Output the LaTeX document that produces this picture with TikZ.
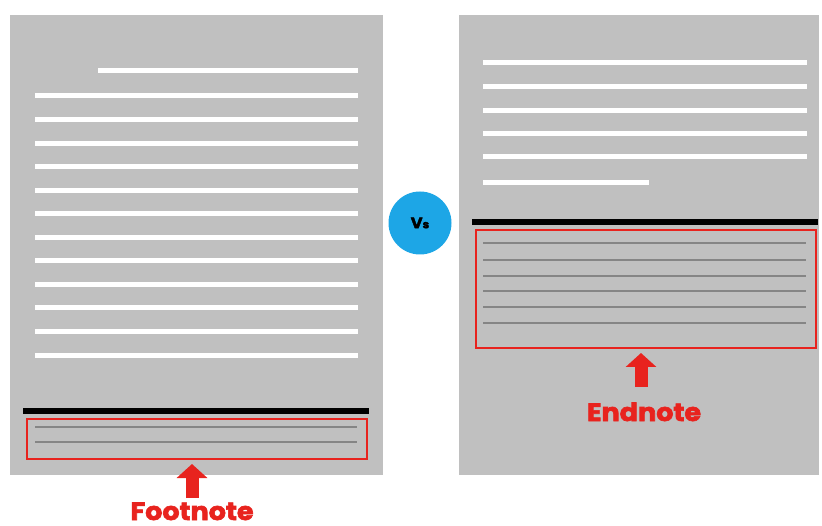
\documentclass[tikz,border=0pt]{standalone}
\usepackage{fontspec}
\newfontfamily\notefont{Poppins}[BoldFeatures={FakeBold=2.5,FakeStretch=1.08}]
\usetikzlibrary{arrows.meta}
\definecolor{pagegray}{HTML}{C0C0C0}
\definecolor{notegray}{HTML}{858585}
\definecolor{notered}{HTML}{E8231E}
\definecolor{vsblue}{HTML}{1DA6E6}
\begin{document}
\begin{tikzpicture}[x=1pt,y=-1pt,
  page/.style={fill=pagegray, draw=none, inner sep=0pt, anchor=north west},
  textline/.style={white, line width=5pt},
  rule/.style={black, line width=5.5pt},
  notebox/.style={draw=notered, line width=1.8pt, inner sep=0pt, anchor=north west},
  noteline/.style={notegray, line width=2.4pt},
  uparrow/.style={notered, line width=13pt, -{Triangle[width=30pt,length=14pt]}},
  notelabel/.style={text=notered, font=\notefont\bfseries\fontsize{25}{25}\selectfont, inner sep=0pt}
]
\useasboundingbox (0,0) rectangle (822,526);
\fill[white] (0,0) rectangle (822,526);

% left page (footnote)
\node[page, minimum width=373pt, minimum height=460pt] (lp) at (10,15) {};
\draw[textline] (98,71) -- (358,71);
\foreach \i in {0,...,11} \draw[textline] (35,96+23.55*\i) -- (358,96+23.55*\i);
\draw[rule] (23,411) -- (369,411);
\node[notebox, minimum width=340pt, minimum height=40pt] (fbox) at (26,418) {};
\draw[noteline] (35,427) -- (357,427);
\draw[noteline] (35,442) -- (357,442);
\node[notelabel, anchor=base] (flabel) at (192,520) {Footnote};
\coordinate (fa) at (192,498);
\coordinate (ft) at (192,464);
\draw[uparrow] (fa) -- (ft);

% right page (endnote)
\node[page, minimum width=360pt, minimum height=460pt] (rp) at (459,15) {};
\foreach \y in {63,87,111,134,157} \draw[textline] (483,\y) -- (807,\y);
\draw[textline] (483,183) -- (649,183);
\draw[rule] (472,222) -- (818,222);
\node[notebox, minimum width=340pt, minimum height=118pt] (ebox) at (475,229) {};
\foreach \y in {243,260,276,291,307,323} \draw[noteline] (483,\y) -- (806,\y);
\node[notelabel, anchor=base] (elabel) at (644,421) {Endnote};
\coordinate (ea) at (641,387);
\coordinate (et) at (641,353);
\draw[uparrow] (ea) -- (et);

% vs
\node[circle, fill=vsblue, minimum size=63pt, inner sep=0pt,
  font=\notefont\bfseries\fontsize{15}{15}\selectfont] (vs) at (420,223) {V{\fontsize{11}{11}\selectfont s}};
\end{tikzpicture}
\end{document}
